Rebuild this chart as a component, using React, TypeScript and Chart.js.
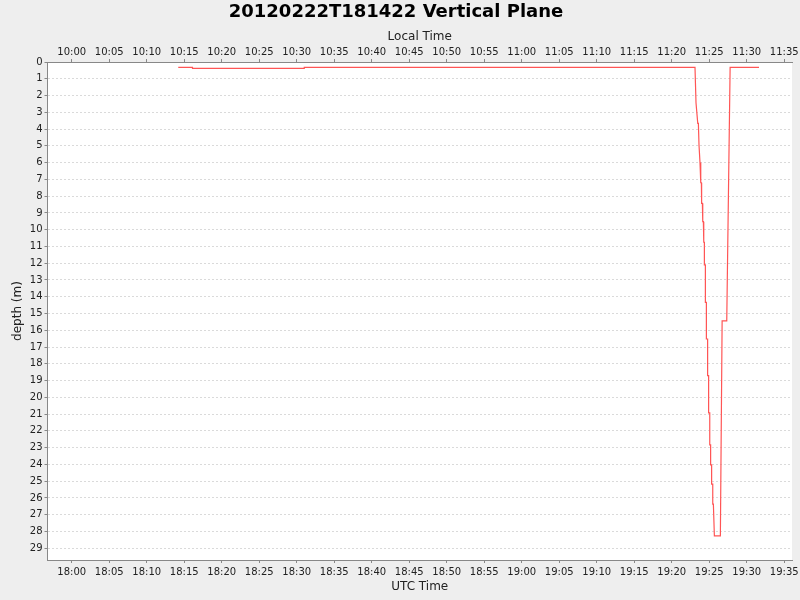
import { useEffect, useRef } from "react"
import { Chart, registerables } from "chart.js"

Chart.register(...registerables)

// UTC sample times and depths (m) of the dive track
const utcTimes = [
  "18:14:12", "18:16:06", "18:16:06", "18:31:00", "18:31:00", "19:23:06",
  "19:23:14", "19:23:20", "19:23:28", "19:23:33", "19:23:38", "19:23:44",
  "19:23:46", "19:23:52", "19:23:52", "19:23:57", "19:23:59", "19:24:05",
  "19:24:08", "19:24:13", "19:24:16", "19:24:21", "19:24:21", "19:24:29",
  "19:24:29", "19:24:37", "19:24:37", "19:24:47", "19:24:47", "19:24:55",
  "19:24:55", "19:25:04", "19:25:04", "19:25:11", "19:25:11", "19:25:19",
  "19:25:19", "19:25:28", "19:25:28", "19:25:33", "19:25:41", "19:26:29",
  "19:26:43", "19:27:20", "19:27:47", "19:31:38",
]
const depths = [
  0.32, 0.32, 0.38, 0.38, 0.32, 0.32,
  2.43, 2.43, 3.66, 3.66, 4.95, 4.95,
  6.0, 6.0, 7.2, 7.2, 8.43, 8.43,
  9.52, 9.52, 10.75, 10.75, 12.1, 12.1,
  14.33, 14.33, 16.52, 16.52, 18.7, 18.7,
  20.93, 20.93, 22.84, 22.84, 24.03, 24.03,
  25.18, 25.18, 26.37, 26.37, 28.26, 28.26,
  15.44, 15.44, 0.32, 0.32,
]

const title = "20120222T181422 Vertical Plane"
const localOffsetHours = -8
const xRangeStart = "17:56:46"
const xRangeEnd = "19:36:02"
const depthMax = 29.7

const FONT = "'DejaVu Sans', sans-serif"

// minutes since 18:00 UTC
const toMin = (s: string) => {
  const [h, m, sec] = s.split(":").map(Number)
  return (h - 18) * 60 + m + sec / 60
}

const fmt = (minutes: number, offsetH: number) => {
  let total = Math.round(minutes) + (18 + offsetH) * 60
  total = ((total % 1440) + 1440) % 1440
  const h = Math.floor(total / 60)
  const m = total % 60
  return `${String(h).padStart(2, "0")}:${String(m).padStart(2, "0")}`
}

const bgPlugin = {
  id: "bg",
  beforeDraw(chart: Chart) {
    const { ctx, chartArea } = chart
    ctx.save()
    ctx.fillStyle = "#eeeeee"
    ctx.fillRect(0, 0, chart.width, chart.height)
    ctx.fillStyle = "#ffffff"
    ctx.fillRect(chartArea.left, chartArea.top, chartArea.right - chartArea.left, chartArea.bottom - chartArea.top)
    ctx.restore()
  },
}

const App = () => {
  const canvasRef = useRef<HTMLCanvasElement>(null)

  useEffect(() => {
    if (!canvasRef.current) return
    const ctx = canvasRef.current.getContext("2d")
    if (!ctx) return

    const points = utcTimes.map((t, i) => ({ x: toMin(t), y: depths[i] }))
    const xMin = toMin(xRangeStart)
    const xMax = toMin(xRangeEnd)

    const tickFont = { family: FONT, size: 10 }
    const titleFont = { family: FONT, size: 12 }

    const chart = new Chart(ctx, {
      type: "line",
      data: {
        datasets: [
          {
            label: "depth",
            data: points,
            borderColor: "#ff5555",
            borderWidth: 1.2,
            pointRadius: 0,
            tension: 0,
            xAxisID: "x",
            yAxisID: "y",
          },
        ],
      },
      options: {
        responsive: false,
        animation: false,
        layout: { padding: { left: 0, right: 8, top: 0, bottom: 0 } },
        plugins: {
          legend: { display: false },
          tooltip: { enabled: false },
          title: {
            display: true,
            text: title,
            color: "#000000",
            font: { family: FONT, size: 18, weight: "bold" },
            padding: { top: 2, bottom: 5 },
          },
        },
        scales: {
          x: {
            type: "linear",
            position: "bottom",
            min: xMin,
            max: xMax,
            afterFit: (scale: any) => {
              scale.height = 40
              scale.paddingLeft = 0
              scale.paddingRight = 0
            },
            ticks: {
              stepSize: 5,
              includeBounds: false,
              autoSkip: false,
              maxRotation: 0,
              padding: 3,
              color: "#222222",
              font: tickFont,
              callback: (v: any) => fmt(Number(v), 0),
            },
            grid: { drawOnChartArea: false, tickLength: 3, tickColor: "#888888" },
            border: { color: "#888888" },
            title: {
              display: true,
              text: "UTC Time",
              color: "#222222",
              font: titleFont,
              padding: { top: 0, bottom: 6 },
            },
          },
          x2: {
            type: "linear",
            position: "top",
            min: xMin,
            max: xMax,
            afterFit: (scale: any) => {
              scale.height = 33.4
              scale.paddingLeft = 0
              scale.paddingRight = 0
            },
            ticks: {
              stepSize: 5,
              includeBounds: false,
              autoSkip: false,
              maxRotation: 0,
              padding: 1,
              color: "#222222",
              font: tickFont,
              callback: (v: any) => fmt(Number(v), localOffsetHours),
            },
            grid: { drawOnChartArea: false, tickLength: 3, tickColor: "#888888" },
            border: { color: "#888888" },
            title: {
              display: true,
              text: "Local Time",
              color: "#222222",
              font: titleFont,
              padding: { top: 1, bottom: 0 },
            },
          },
          y: {
            type: "linear",
            reverse: true,
            min: 0,
            max: depthMax,
            afterFit: (scale: any) => {
              scale.width = 47.5
              scale.paddingTop = 0
              scale.paddingBottom = 0
            },
            afterBuildTicks: (scale: any) => {
              scale.ticks = scale.ticks.filter((t: any) => Number.isInteger(t.value))
            },
            ticks: {
              stepSize: 1,
              includeBounds: false,
              autoSkip: false,
              padding: 2,
              color: "#222222",
              font: tickFont,
            },
            grid: {
              color: "#dadada",
              tickLength: 3,
              tickColor: "#888888",
              tickBorderDash: [],
            },
            border: { color: "#888888", dash: [2, 2] },
            title: {
              display: true,
              text: "depth (m)",
              color: "#222222",
              font: titleFont,
              padding: { top: 11, bottom: 0 },
            },
          },
        },
      },
      plugins: [bgPlugin],
    })

    return () => {
      chart.destroy()
    }
  }, [])

  return (
    <div style={{ position: "absolute", left: 0, top: 0, width: 800, height: 600, background: "#eeeeee" }}>
      <canvas ref={canvasRef} width={800} height={600} />
    </div>
  )
}

export default App
